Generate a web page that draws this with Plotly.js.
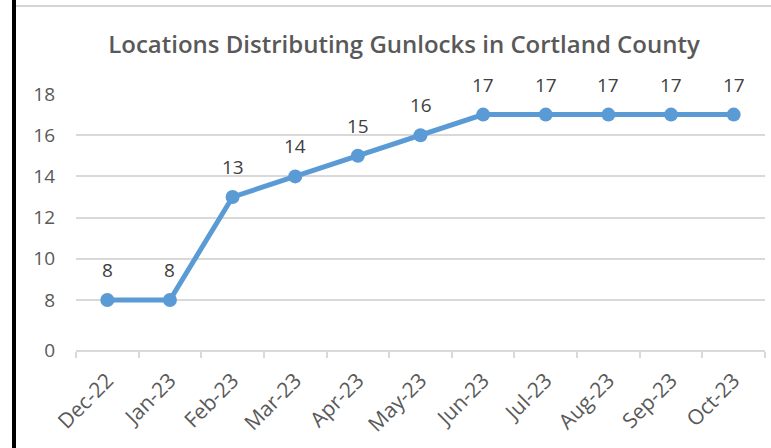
<!DOCTYPE html>
<html>
<head>
<meta charset="utf-8">
<script src="https://cdn.plot.ly/plotly-3.0.1.min.js"></script>
<style>
html,body{margin:0;padding:0;background:#fff;}
#wrap{position:relative;width:771px;height:448px;overflow:hidden;}
#chart{position:absolute;left:0;top:0;width:771px;height:448px;}
#lborder{position:absolute;left:12px;top:0;width:4px;height:448px;background:#000;}
#tborder{position:absolute;left:16px;top:5px;width:755px;height:2px;background:#d4d4d4;}
</style>
</head>
<body>
<div id="wrap">
<div id="chart"></div>
<div id="lborder"></div>
<div id="tborder"></div>
</div>
<script>
const months = ["Dec-22","Jan-23","Feb-23","Mar-23","Apr-23","May-23","Jun-23","Jul-23","Aug-23","Sep-23","Oct-23"];
const locations = [8, 8, 13, 14, 15, 16, 17, 17, 17, 17, 17];
const yTickVals = [5.57, 8, 10, 12, 14, 16, 18];
const yTickText = ["0", "8", "10", "12", "14", "16", "18"];

const FONT = "Open Sans, sans-serif";

const trace = {
  x: months,
  y: locations,
  type: "scatter",
  mode: "lines+markers",
  line: {color: "#5b9bd5", width: 5},
  marker: {color: "#5b9bd5", size: 14},
  cliponaxis: false,
  hoverinfo: "none"
};

const labels = months.map((m, i) => ({
  x: m, y: locations[i], xref: "x", yref: "y",
  text: String(locations[i]), showarrow: false,
  yanchor: "middle", xanchor: "center", yshift: 30,
  font: {family: FONT, size: 19, color: "#404040"}
}));

const layout = {
  width: 771, height: 448,
  margin: {l: 76, r: 6, t: 94, b: 98},
  paper_bgcolor: "rgba(0,0,0,0)",
  plot_bgcolor: "rgba(0,0,0,0)",
  showlegend: false,
  title: {
    text: "Locations Distributing Gunlocks in Cortland County",
    font: {family: FONT, size: 24, color: "#595959", weight: 600},
    x: 0.524, xanchor: "center", y: 0.9, yanchor: "middle", yref: "container"
  },
  annotations: labels,
  xaxis: {
    type: "category",
    range: [-0.5, 10.5],
    showline: true, linecolor: "#d9d9d9", linewidth: 2,
    ticks: "outside", ticklen: 6, tickcolor: "#d9d9d9", tickwidth: 2,
    tickson: "boundaries",
    showgrid: false,
    tickangle: -45,
    ticklabelstandoff: 8,
    tickfont: {family: FONT, size: 21, color: "#595959"},
    fixedrange: true
  },
  yaxis: {
    range: [5.57, 18],
    tickmode: "array",
    tickvals: yTickVals,
    ticktext: yTickText,
    showgrid: true, gridcolor: "#d9d9d9", gridwidth: 2,
    zeroline: false, showline: false,
    ticks: "", ticklabelstandoff: 20,
    tickfont: {family: FONT, size: 19, color: "#595959"},
    fixedrange: true
  }
};

Plotly.newPlot("chart", [trace], layout, {displayModeBar: false, staticPlot: true});
</script>
</body>
</html>
